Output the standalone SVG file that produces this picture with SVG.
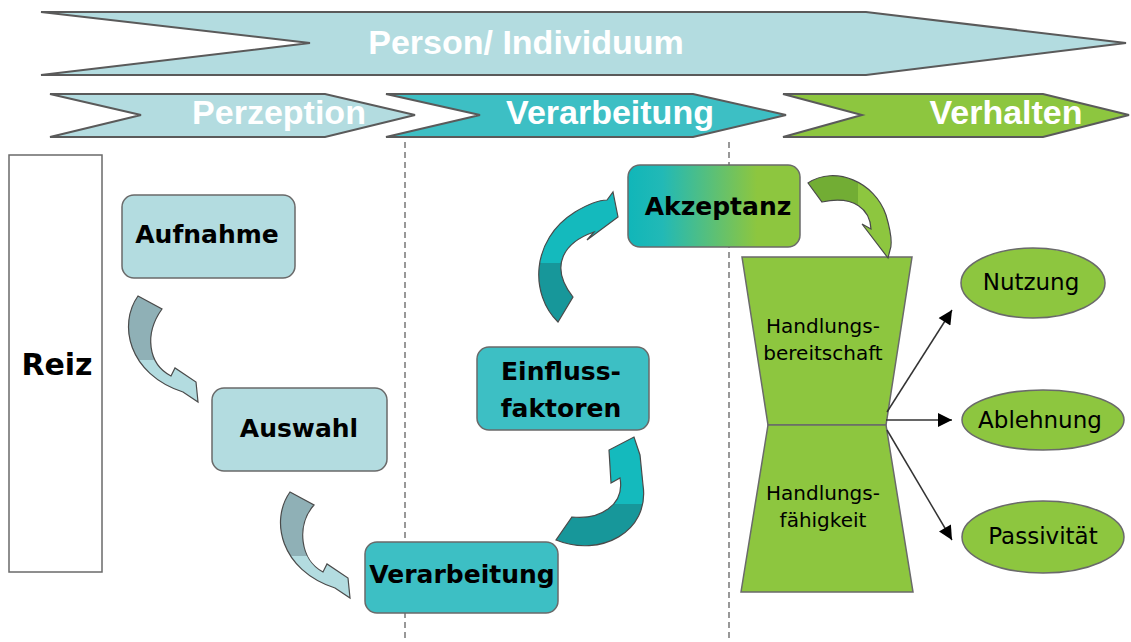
<svg xmlns="http://www.w3.org/2000/svg" width="1131" height="642" viewBox="0 0 1131 642">
<defs>
<style>
.chev{stroke:#5a5a5a;stroke-width:2;stroke-linejoin:miter}
.ban{font-family:"Liberation Sans",Arial,sans-serif;font-weight:bold;font-size:34px;fill:#ffffff;text-anchor:middle}
.box{stroke:#6a6a6a;stroke-width:1.5}
.lbl{font-family:"DejaVu Sans",Verdana,sans-serif;font-weight:bold;font-size:25px;fill:#000;text-anchor:middle}
.small{font-family:"DejaVu Sans",Verdana,sans-serif;font-size:20px;fill:#000;text-anchor:middle}
.ell{font-family:"DejaVu Sans",Verdana,sans-serif;font-size:23px;fill:#000;text-anchor:middle}
.dash{stroke:#777;stroke-width:1.5;stroke-dasharray:6 4;fill:none}
.arr{stroke:#333;stroke-width:1.5;fill:none}
.carr{stroke:#4a4a4a;stroke-width:1.2}
</style>
<linearGradient id="gAkz" x1="0" y1="0" x2="1" y2="0">
<stop offset="0" stop-color="#10b6b9"/>
<stop offset="0.2" stop-color="#22b9b6"/>
<stop offset="0.75" stop-color="#8dc63f"/>
<stop offset="1" stop-color="#8dc63f"/>
</linearGradient>
<linearGradient id="gBlue" x1="0" y1="0" x2="0" y2="1">
<stop offset="0" stop-color="#8fb0b6"/>
<stop offset="0.6" stop-color="#8fb0b6"/>
<stop offset="0.6" stop-color="#b3dce0"/>
<stop offset="1" stop-color="#b3dce0"/>
</linearGradient>
<linearGradient id="gTealUp" x1="0" y1="1" x2="0" y2="0">
<stop offset="0" stop-color="#17979a"/>
<stop offset="0.45" stop-color="#17979a"/>
<stop offset="0.45" stop-color="#14babd"/>
<stop offset="1" stop-color="#14babd"/>
</linearGradient>
<linearGradient id="gTealR" x1="0" y1="0" x2="0" y2="1">
<stop offset="0" stop-color="#14babd"/>
<stop offset="0.62" stop-color="#14babd"/>
<stop offset="0.62" stop-color="#17979a"/>
<stop offset="1" stop-color="#17979a"/>
</linearGradient>
<linearGradient id="gGreen" x1="0" y1="0" x2="1" y2="0">
<stop offset="0" stop-color="#72ad34"/>
<stop offset="0.6" stop-color="#72ad34"/>
<stop offset="0.6" stop-color="#8dc63f"/>
<stop offset="1" stop-color="#8dc63f"/>
</linearGradient>
<marker id="ah" viewBox="0 0 10 10" refX="10" refY="5" markerWidth="15" markerHeight="14" markerUnits="userSpaceOnUse" orient="auto">
<path d="M0,0 L10,5 L0,10 Z" fill="#000"/>
</marker>
</defs>

<g id="banner-person">
<polygon class="chev" points="41,12 866,12 1126,43 866,75 41,75 310,43" fill="#b3dce0"/>
<text class="ban" x="526" y="54">Person/ Individuum</text>
</g>
<g id="banner-perzeption">
<polygon class="chev" points="50,94 325,94 415,115 325,137 50,137 141,115" fill="#b3dce0"/>
<text class="ban" x="279" y="124">Perzeption</text>
</g>
<g id="banner-verarbeitung">
<polygon class="chev" points="386,94 693,94 786,115 693,137 386,137 480,115" fill="#3dbfc4"/>
<text class="ban" x="610" y="124">Verarbeitung</text>
</g>
<g id="banner-verhalten">
<polygon class="chev" points="783,94 1043,94 1129,115 1043,137 783,137 862,115" fill="#8dc63f"/>
<text class="ban" x="1006" y="124">Verhalten</text>
</g>

<g id="dividers">
<line class="dash" x1="405" y1="142" x2="405" y2="642"/>
<line class="dash" x1="729" y1="142" x2="729" y2="642"/>
</g>

<g id="reiz">
<rect class="box" x="9" y="155" width="93" height="417" fill="#ffffff"/>
<text class="lbl" x="57" y="375" style="font-size:30px">Reiz</text>
</g>
<g id="aufnahme">
<rect class="box" x="122" y="195" width="173" height="83" rx="12" fill="#b3dce0"/>
<text class="lbl" x="207" y="243">Aufnahme</text>
</g>
<g id="auswahl">
<rect class="box" x="212" y="388" width="175" height="83" rx="12" fill="#b3dce0"/>
<text class="lbl" x="299" y="437">Auswahl</text>
</g>
<g id="verarbeitung">
<rect class="box" x="365" y="542" width="193" height="71" rx="12" fill="#3dbfc4"/>
<text class="lbl" x="462" y="583">Verarbeitung</text>
</g>
<g id="einflussfaktoren">
<rect class="box" x="477" y="347" width="172" height="83" rx="12" fill="#3dbfc4"/>
<text class="lbl" x="561" y="380">Einfluss-</text>
<text class="lbl" x="561" y="417">faktoren</text>
</g>
<g id="akzeptanz">
<rect class="box" x="628" y="165" width="172" height="82" rx="12" fill="url(#gAkz)"/>
<text class="lbl" x="718" y="215">Akzeptanz</text>
</g>
<g id="handlung">
<polygon class="box" points="742,257 912,257 886,425 768,425" fill="#8dc63f"/>
<polygon class="box" points="768,425 886,425 913,592 741,592" fill="#8dc63f"/>
<text class="small" x="823" y="333">Handlungs-</text>
<text class="small" x="823" y="360">bereitschaft</text>
<text class="small" x="823" y="500">Handlungs-</text>
<text class="small" x="823" y="527">fähigkeit</text>
</g>
<g id="nutzung">
<ellipse class="box" cx="1033" cy="283" rx="72" ry="35" fill="#8dc63f"/>
<text class="ell" x="1031" y="290">Nutzung</text>
</g>
<g id="ablehnung">
<ellipse class="box" cx="1043" cy="420" rx="81" ry="30" fill="#8dc63f"/>
<text class="ell" x="1040" y="428">Ablehnung</text>
</g>
<g id="passivitaet">
<ellipse class="box" cx="1043" cy="537" rx="81" ry="36" fill="#8dc63f"/>
<text class="ell" x="1043" y="544">Passivität</text>
</g>

<g id="connectors">
<path class="carr" fill="url(#gBlue)" d="M138,296 C118,324 128,374 183,392 L198,402 L196,382 L175,368 L171,376 C148,364 144,334 162,309 Z"/>
<path class="carr" fill="url(#gBlue)" d="M290,492 C270,520 280,570 335,588 L350,598 L348,578 L327,564 L323,572 C300,560 296,525 314,505 Z"/>
<path class="carr" fill="url(#gTealR)" d="M556,540 C600,558 650,532 643,485 L640,455 L634,437 L609,450 L611,483 L620,478 C625,505 600,520 572,517 Z"/>
<path class="carr" fill="url(#gTealUp)" d="M558,322 C530,295 530,240 575,212 C590,203 600,200 607,200 L613,192 L618,217 L587,240 L594,232 C565,242 548,265 573,297 Z"/>
<path class="carr" fill="url(#gGreen)" d="M808,183 C835,165 875,182 886,215 C891,232 892,245 890,250 L888,258 L862,224 L871,229 C870,210 855,195 822,202 Z"/>
<line class="arr" x1="887" y1="412" x2="952" y2="310" marker-end="url(#ah)"/>
<line class="arr" x1="886" y1="420" x2="952" y2="420" marker-end="url(#ah)"/>
<line class="arr" x1="887" y1="430" x2="952" y2="540" marker-end="url(#ah)"/>
</g>
</svg>
